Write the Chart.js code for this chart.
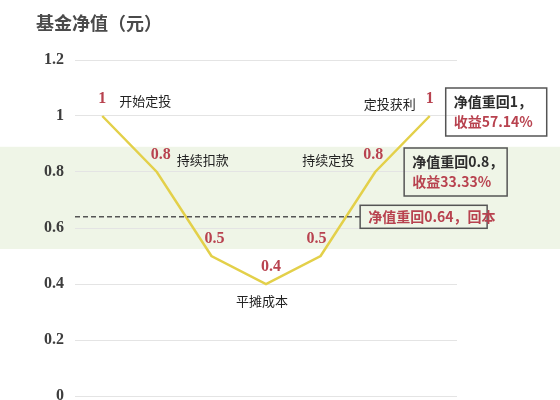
<!DOCTYPE html>
<html>
<head>
<meta charset="utf-8">
<script src="https://cdn.jsdelivr.net/npm/chart.js@4/dist/chart.umd.min.js"></script>
<style>
  html, body { margin: 0; padding: 0; background: #ffffff; }
  #wrap { width: 560px; height: 400px; position: relative; }
</style>
</head>
<body>
<div id="wrap"><canvas id="c"></canvas></div>
<script>
// ---- data ----
const chartTitle = '基金净值（元）';
const categories = ['第1期', '第2期', '第3期', '第4期', '第5期', '第6期', '第7期'];
const navValues = [1, 0.8, 0.5, 0.4, 0.5, 0.8, 1];
const valueLabels = ['1', '0.8', '0.5', '0.4', '0.5', '0.8', '1'];
const notes = ['开始定投', '持续扣款', '', '平摊成本', '', '持续定投', '定投获利'];
const yTickValues = [0, 0.2, 0.4, 0.6, 0.8, 1, 1.2];
const costValue = 0.64;
const box1Lines = ['净值重回1，', '收益57.14%'];
const box2Lines = ['净值重回0.8，', '收益33.33%'];
const box3Lines = ['净值重回0.64，回本'];
const bandRange = [0.525, 0.89];

const RED = '#b8424f';
const CJK = '"Noto Sans CJK SC", "Noto Sans", sans-serif';
const NUM = '"Liberation Serif", "DejaVu Serif", serif';

const decor = {
  id: 'decor',
  beforeDraw(chart) {
    const ctx = chart.ctx, y = chart.scales.y;
    ctx.save();
    const top = y.getPixelForValue(bandRange[1]);
    const bot = y.getPixelForValue(bandRange[0]);
    ctx.fillStyle = '#eff5e7';
    ctx.fillRect(0, top, chart.width, bot - top);
    ctx.restore();
  },
  afterDatasetsDraw(chart) {
    const ctx = chart.ctx, y = chart.scales.y, x = chart.scales.x;
    const area = chart.chartArea;
    const pts = chart.getDatasetMeta(0).data;
    ctx.save();
    // title
    ctx.fillStyle = '#4a4a4a';
    ctx.font = 'bold 18px ' + CJK;
    ctx.textBaseline = 'middle';
    ctx.textAlign = 'left';
    ctx.fillText(chartTitle, 36, 23);

    // value labels
    ctx.font = 'bold 16px ' + NUM;
    ctx.fillStyle = RED;
    ctx.textAlign = 'center';
    const dx = [0, 4, 3, 5, -4, -2, 0];
    pts.forEach((p, i) => {
      ctx.fillText(valueLabels[i], p.x + dx[i], p.y - 17);
    });

    // notes
    ctx.font = '13px ' + CJK;
    ctx.fillStyle = '#222222';
    const place = ['right', 'right', '', 'below', '', 'left', 'left'];
    pts.forEach((p, i) => {
      const t = notes[i];
      if (!t) return;
      if (place[i] === 'right') { ctx.textAlign = 'left'; ctx.fillText(t, p.x + (i === 0 ? 17 : 20), p.y - (i === 0 ? 15 : 12)); }
      else if (place[i] === 'left') { ctx.textAlign = 'right'; ctx.fillText(t, p.x - (i === 6 ? 14 : 21), p.y - 12); }
      else { ctx.textAlign = 'center'; ctx.fillText(t, p.x - 4, p.y + 17); }
    });

    // dashed cost line
    const cy = y.getPixelForValue(costValue);
    const endX = x.getPixelForValue(5) - 15;
    ctx.strokeStyle = '#555555';
    ctx.lineWidth = 1.5;
    ctx.setLineDash([5, 3]);
    ctx.beginPath();
    ctx.moveTo(area.left, cy);
    ctx.lineTo(endX, cy);
    ctx.stroke();
    ctx.setLineDash([]);

    function box(left, cy, w, lines, colors, pad) {
      const lh = 20;
      const h = lines.length * lh + pad * 2;
      const top = cy - h / 2;
      ctx.strokeStyle = '#555555';
      ctx.lineWidth = 1.5;
      ctx.strokeRect(left, top, w, h);
      ctx.textAlign = 'left';
      ctx.font = 'bold 14px ' + CJK;
      lines.forEach((l, k) => {
        ctx.fillStyle = colors[k];
        ctx.fillText(l, left + 8, top + pad + lh / 2 + k * lh);
      });
    }
    box(pts[6].x + 16, pts[6].y - 4, 101, box1Lines, ['#2d2d2d', RED], 4);
    box(pts[5].x + 29, pts[5].y, 103, box2Lines, ['#2d2d2d', RED], 4);
    box(endX, cy, 127, box3Lines, [RED], 1.5);
    ctx.restore();
  }
};

new Chart(document.getElementById('c'), {
  type: 'line',
  data: {
    labels: categories,
    datasets: [{
      data: navValues,
      borderColor: '#e3d04a',
      borderWidth: 2.5,
      pointRadius: 0,
      tension: 0,
      fill: false
    }]
  },
  options: {
    responsive: true,
    maintainAspectRatio: false,
    animation: false,
    layout: { padding: { left: 0, right: 103, top: 60, bottom: 4 } },
    plugins: { legend: { display: false }, tooltip: { enabled: false } },
    scales: {
      x: { display: false, offset: true },
      y: {
        min: 0, max: 1.2,
        afterBuildTicks: s => { s.ticks = yTickValues.map(v => ({ value: v })); },
        afterFit: s => { s.width = 75; s.paddingTop = 0; s.paddingBottom = 0; },
        border: { display: false },
        grid: { color: '#e4e4e4', lineWidth: 1, drawTicks: false },
        ticks: {
          padding: 11,
          color: '#3d3d3d',
          font: { family: NUM, size: 16, weight: 'bold' },
          callback: v => String(Math.round(v * 10) / 10)
        }
      }
    }
  },
  plugins: [decor]
});
</script>
</body>
</html>
